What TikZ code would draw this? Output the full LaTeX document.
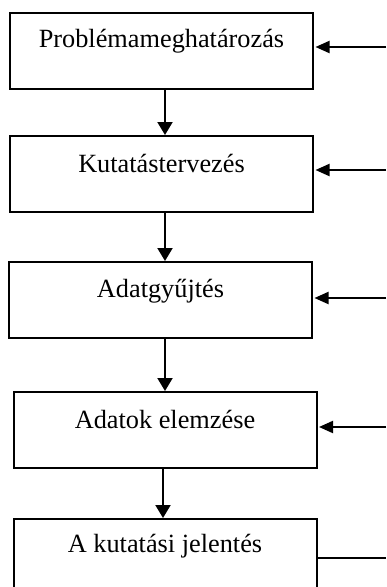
\documentclass[tikz,border=0pt]{standalone}
\usepackage{fontspec}
\setmainfont{Liberation Serif}
\usetikzlibrary{arrows.meta,calc}
\begin{document}
\begin{tikzpicture}[x=1pt,y=-1pt,
  stage/.style={draw=black,line width=2pt,rectangle,minimum width=303pt,minimum height=76pt,inner sep=0pt},
  stagelabel/.style={anchor=base,inner sep=0pt,font=\fontsize{26.3}{30}\selectfont},
  flow/.style={line width=2pt,-{Triangle[length=13pt,width=15pt]}},
  feed/.style={line width=2pt,-{Triangle[length=14pt,width=12pt]},shorten >=1.5pt},
  outline/.style={line width=2pt}]
\useasboundingbox (0,0) rectangle (386,587);
% process stages
\node[stage] (b1) at (161.5,50.5) {};
\node[stage] (b2) at (161.5,174) {};
\node[stage] (b3) at (160.5,300) {};
\node[stage] (b4) at (165,430) {};
\node[stage] (b5) at (165,557) {};
\node[stagelabel] (t1) at ($(b1.north)+(0,36)$) {Problémameghatározás};
\node[stagelabel] (t2) at ($(b2.north)+(0,37)$) {Kutatástervezés};
\node[stagelabel] (t3) at ($(b3.north)+(0,36)$) {Adatgyűjtés};
\node[stagelabel] (t4) at ($(b4.north)+(0,37)$) {Adatok elemzése};
\node[stagelabel] (t5) at ($(b5.north)+(0,34)$) {A kutatási jelentés};
% vertical flow
\coordinate (xa) at (165,0);
\coordinate (xb) at (163,0);
\draw[flow] (b1.south -| xa) -- (b2.north -| xa);
\draw[flow] (b2.south -| xa) -- (b3.north -| xa);
\draw[flow] (b3.south -| xa) -- (b4.north -| xa);
\draw[flow] (b4.south -| xb) -- (b5.north -| xb);
% feedback inputs from the right
\coordinate (r1) at (386,47);
\coordinate (r2) at (386,170);
\coordinate (r3) at (386,298);
\coordinate (r4) at (386,427);
\coordinate (r5) at (386,558);
\draw[feed] (r1) -- (r1 -| b1.east);
\draw[feed] (r2) -- (r2 -| b2.east);
\draw[feed] (r3) -- (r3 -| b3.east);
\draw[feed] (r4) -- (r4 -| b4.east);
\draw[outline] (b5.east |- r5) -- (r5);
\end{tikzpicture}
\end{document}
